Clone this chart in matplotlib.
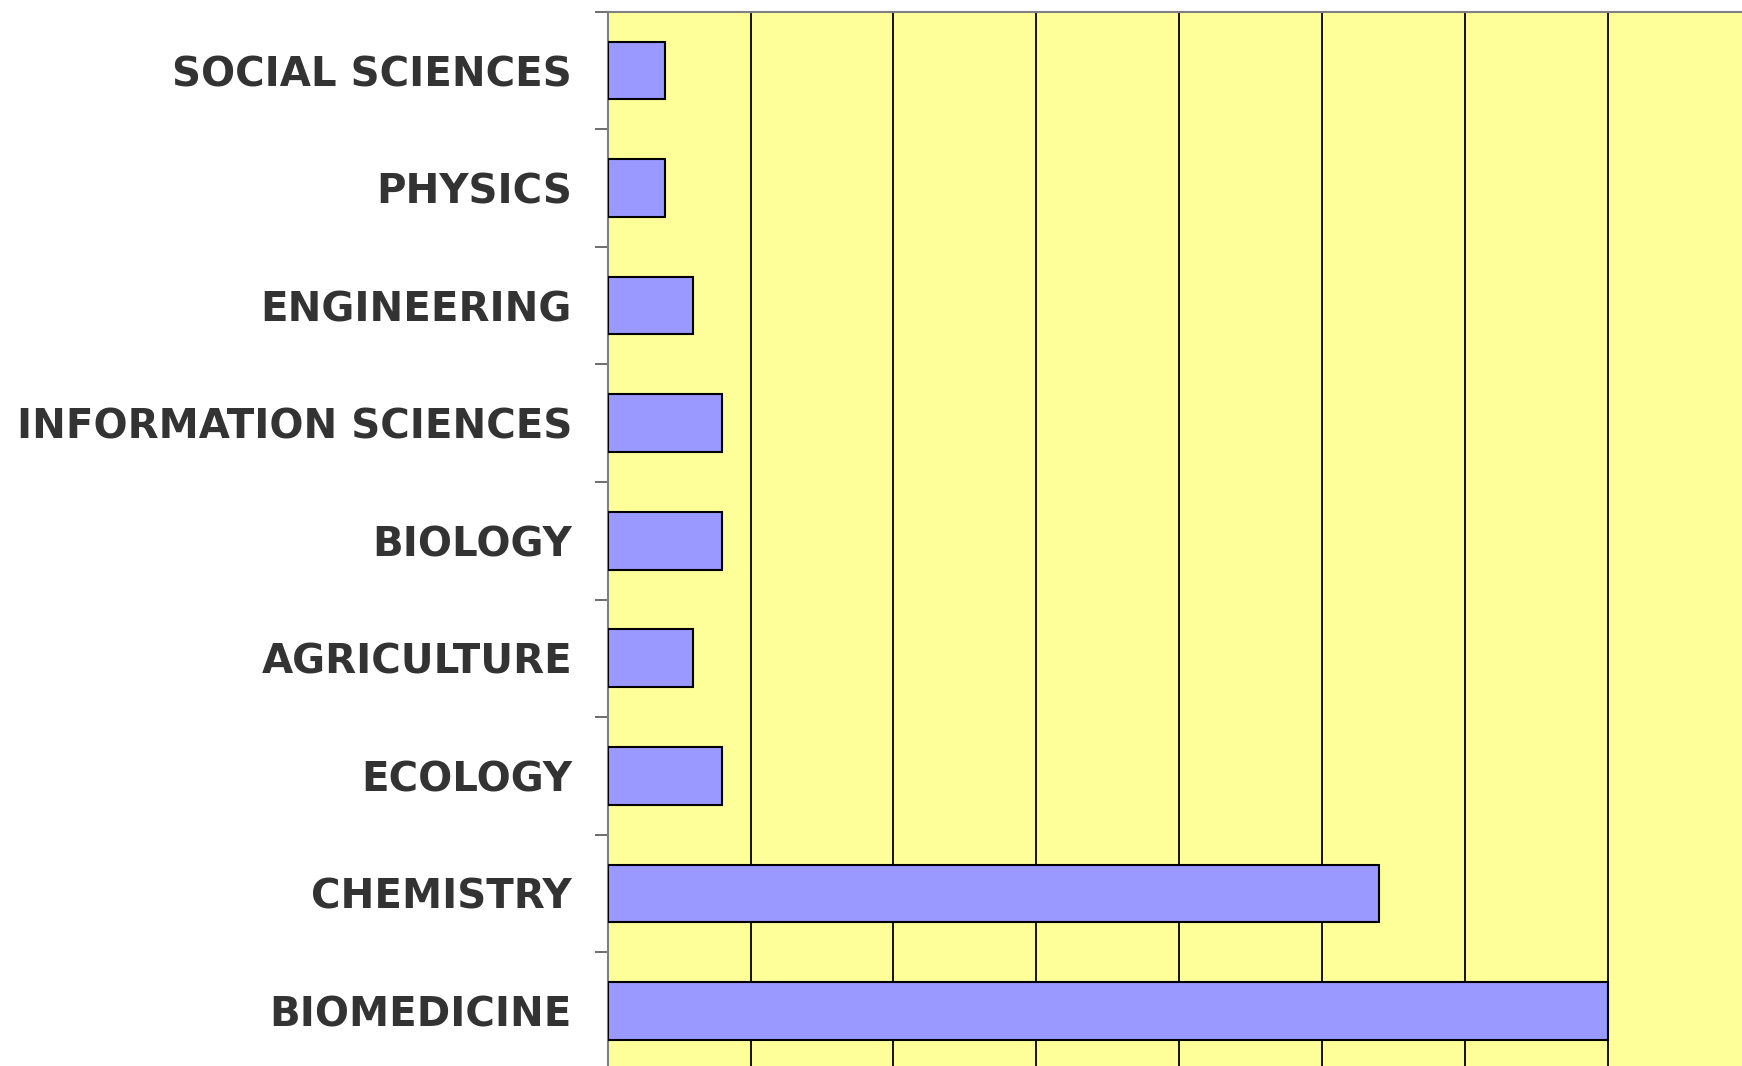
import matplotlib.pyplot as plt
import numpy as np

# disciplines, de haut en bas
categories = ["SOCIAL SCIENCES", "PHYSICS", "ENGINEERING", "INFORMATION SCIENCES",
              "BIOLOGY", "AGRICULTURE", "ECOLOGY", "CHEMISTRY", "BIOMEDICINE"]
values = [2, 2, 3, 4, 4, 3, 4, 27, 35]

plt.rcParams['font.family'] = ['DejaVu Sans']

fig = plt.figure(figsize=(17.42, 10.66), dpi=100)
ax = fig.add_axes([0.3489, -0.0035, 0.6560, 0.9925])
ax.set_facecolor("#FFFF99")

y = np.arange(len(categories))
ax.barh(y, values, height=0.49, color="#9999FF", edgecolor="black", linewidth=1.5, zorder=3)

ax.set_xlim(0, 40)
ax.set_ylim(len(categories) - 0.5, -0.5)
ax.set_xticks(np.arange(0, 41, 5))
ax.xaxis.grid(True, color="black", linewidth=1.3, zorder=1)
ax.set_axisbelow(True)
ax.tick_params(axis="x", length=0, labelbottom=False)

ax.set_yticks(y)
ax.set_yticklabels(categories, fontsize=29, fontweight="bold", color="#333333")
ax.tick_params(axis="y", which="major", length=0, pad=25.7)
ax.set_yticks(np.arange(-0.5, len(categories), 1), minor=True)
ax.tick_params(axis="y", which="minor", length=9.4, width=1.2, color="#555555", direction="out")

for s in ["top", "left"]:
    ax.spines[s].set_color("#808080")
    ax.spines[s].set_linewidth(1.5)
for s in ["right", "bottom"]:
    ax.spines[s].set_visible(False)

fig.savefig("out.png", dpi=100)
